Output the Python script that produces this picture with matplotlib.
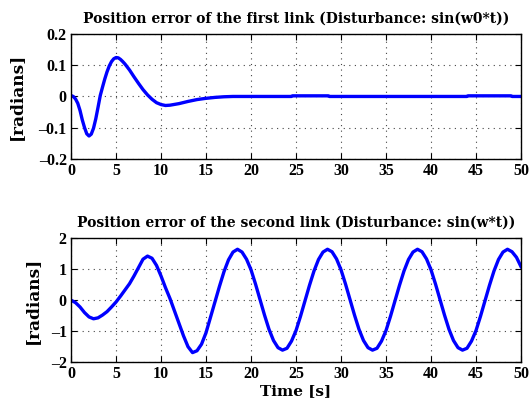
import numpy as np
import matplotlib
matplotlib.use("Agg")
from matplotlib import pyplot as plt

# first link: time [s] and position error [rad]
t1 = [0, 0.25, 0.5, 0.75, 1.0, 1.25, 1.5, 1.75, 2.0, 2.25, 2.5, 2.75, 3.0,
      3.25, 3.5, 3.75, 4.0, 4.25, 4.5, 4.75, 5.0, 5.25, 5.5, 5.75, 6.0,
      6.5, 7.0, 7.5, 8.0, 8.5, 9.0, 9.5, 10.0, 10.5, 11.0, 12.0, 13.0,
      14.0, 15.0, 16.0, 17.0, 18.0, 24.5, 24.6, 28.6, 28.7, 44.0, 44.1,
      48.9, 49.0, 50.0]
err_link1 = [0.003, 0.000, -0.008, -0.022, -0.045, -0.075, -0.100, -0.120,
             -0.127, -0.121, -0.102, -0.072, -0.035, 0.003, 0.030, 0.056,
             0.079, 0.098, 0.112, 0.121, 0.125, 0.124, 0.119, 0.112, 0.104,
             0.085, 0.063, 0.042, 0.022, 0.005, -0.009, -0.020, -0.026,
             -0.029, -0.028, -0.023, -0.016, -0.010, -0.006, -0.003, -0.001,
             0.000, 0.000, 0.002, 0.002, 0.000, 0.000, 0.002, 0.002, 0.000,
             0.000]

# second link: time [s] (every 0.5 s) and position error [rad]
t2 = np.arange(0, 50.5, 0.5)
err_link2 = [
    0.00, -0.08, -0.22, -0.40, -0.54, -0.60, -0.57, -0.48, -0.37, -0.22,
    -0.06, 0.13, 0.33, 0.53, 0.78, 1.05, 1.32, 1.42, 1.35, 1.12,
    0.78, 0.40, 0.05, -0.35, -0.75, -1.15, -1.50, -1.69, -1.63, -1.42,
    -1.05, -0.55, -0.05, 0.45, 0.92, 1.30, 1.55, 1.64, 1.55, 1.32,
    0.98, 0.52, 0.02, -0.48, -0.94, -1.30, -1.53, -1.61, -1.55, -1.32,
    -0.98, -0.52, -0.02, 0.48, 0.94, 1.31, 1.55, 1.64, 1.56, 1.33,
    0.98, 0.52, 0.02, -0.48, -0.94, -1.30, -1.53, -1.61, -1.55, -1.32,
    -0.98, -0.52, -0.02, 0.48, 0.94, 1.31, 1.55, 1.64, 1.56, 1.33,
    0.98, 0.52, 0.02, -0.48, -0.94, -1.30, -1.53, -1.61, -1.55, -1.32,
    -0.98, -0.52, -0.02, 0.48, 0.94, 1.31, 1.55, 1.64, 1.56, 1.38,
    1.08,
]

titles = ["Position error of the first link (Disturbance: sin(w0*t))",
          "Position error of the second link (Disturbance: sin(w*t))"]
yticks_1 = [-0.2, -0.1, 0, 0.1, 0.2]
yticks_2 = [-2, -1, 0, 1, 2]
xticks = list(range(0, 55, 5))

plt.rcParams['font.family'] = ['DejaVu Serif']
plt.rcParams['font.weight'] = 'bold'
tick_font = {'family': ['Liberation Serif'], 'weight': 'bold', 'size': 11.5}

fig = plt.figure(figsize=(5.3, 4.07), dpi=100)
ax1 = fig.add_axes([0.134, 0.610, 0.849, 0.306])
ax2 = fig.add_axes([0.134, 0.110, 0.849, 0.305])

for ax, x, y, ttl, yt, lx in [(ax1, t1, err_link1, titles[0], yticks_1, -0.102),
                              (ax2, t2, err_link2, titles[1], yticks_2, -0.067)]:
    ax.plot(x, y, color='#0000ff', lw=2.4)
    ax.set_xlim(0, 50)
    ax.set_ylim(yt[0], yt[-1])
    ax.set_xticks(xticks)
    ax.set_xticklabels([str(v) for v in xticks], fontdict=tick_font)
    ax.set_yticks(yt)
    ax.set_yticklabels([('%g' % v).replace('-', '\u2013') for v in yt],
                       fontdict=tick_font)
    ax.grid(True, linestyle=(0, (1, 4)), color='#444444', lw=0.8)
    ax.tick_params(direction='in', top=True, right=True, length=4, pad=3)
    for s in ax.spines.values():
        s.set_linewidth(1.0)
    ax.set_title(ttl, fontsize=10, fontweight='bold', pad=8)
    ax.set_ylabel('[radians]', fontsize=12.2, fontweight='bold')
    ax.yaxis.set_label_coords(lx, 0.5)

ax2.set_xlabel('Time [s]', fontsize=11, fontweight='bold', labelpad=1)

fig.savefig('out.png', dpi=100)
